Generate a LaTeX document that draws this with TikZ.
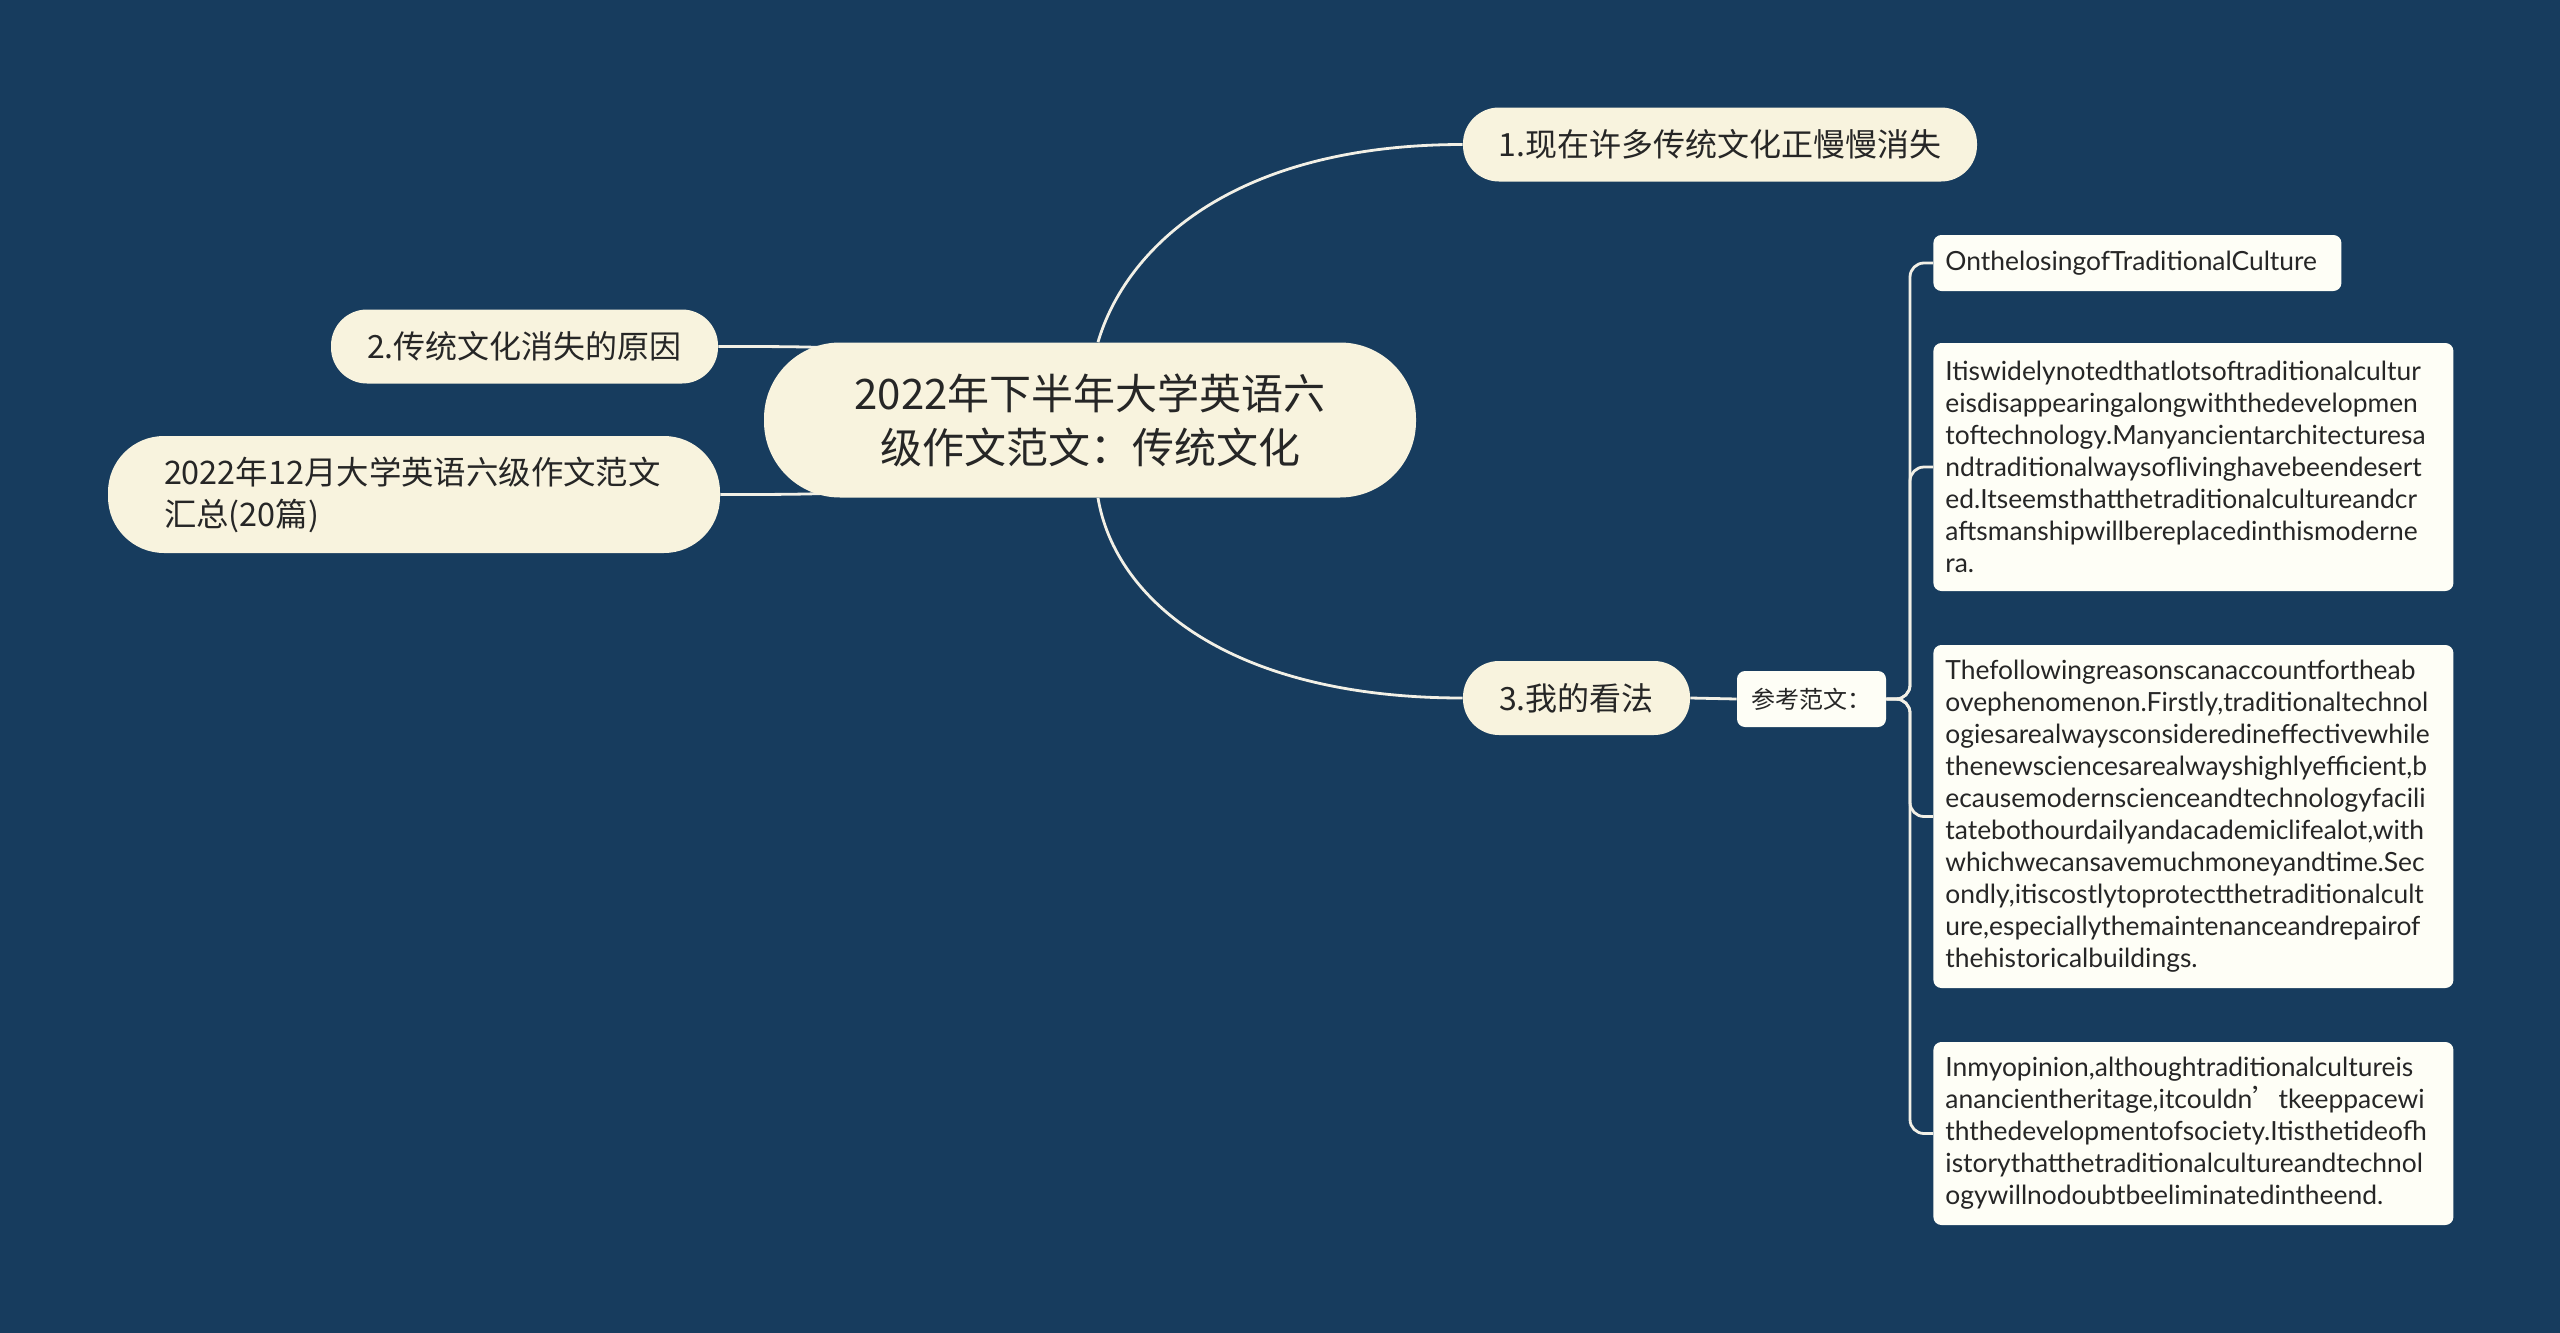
\documentclass[tikz,border=0pt]{standalone}
\usepackage{fontspec}
\setmainfont{Lato}
\newfontfamily\cjk{Noto Sans CJK SC}
\usetikzlibrary{backgrounds}
\definecolor{bgblue}{RGB}{23,60,94}
\definecolor{cream}{RGB}{248,243,222}
\definecolor{paper}{RGB}{254,254,246}
\definecolor{ink}{RGB}{38,38,38}
\definecolor{wire}{RGB}{242,240,230}

\begin{document}
\begin{tikzpicture}[x=0.5pt,y=-0.5pt,
 pill/.style={fill=cream,text=ink,font=\cjk\fontsize{16}{19}\selectfont,rounded corners=18pt,minimum height=37pt,inner sep=0pt},
 card/.style={fill=paper,text=ink,rounded corners=4pt,align=left,inner xsep=6pt,inner ysep=0pt,font=\fontsize{13.2}{16}\selectfont},
 link/.style={draw=wire,line width=1.4pt}]
 % centre topic
 \node[pill,font=\cjk\fontsize{21}{27}\selectfont,align=center,minimum width=326pt,minimum height=77.5pt,rounded corners=38pt] (root) at (1090,420) {2022年下半年大学英语六\\级作文范文：传统文化};
 % first level
 \node[pill,minimum width=257pt] (now) at (1720,144.5) {1.现在许多传统文化正慢慢消失};
 \node[pill,minimum width=193.5pt] (cause) at (524.5,346.5) {2.传统文化消失的原因};
 \node[pill,minimum width=306pt,minimum height=58.5pt,rounded corners=28pt,text width=250pt,align=left,font=\cjk\fontsize{16.2}{21}\selectfont] (summary) at (414,494.5) {2022年12月大学英语六级作文范文\\汇总(20篇)};
 \node[pill,minimum width=113.5pt] (view) at (1576.5,698) {3.我的看法};
 \node[card,font=\cjk\fontsize{12}{14}\selectfont,align=center,minimum width=74.5pt,minimum height=28pt] (model) at (1811.5,699) {参考范文：};
 % essay cards
 \node[card,anchor=west,text width=192pt,minimum height=28pt] (title) at (1933,263) {OnthelosingofTraditionalCulture};
 \node[card,anchor=west,text width=248pt,minimum height=124pt] (para1) at (1933,467) {Itiswidelynotedthatlotsoftraditionalcultur\\eisdisappearingalongwiththedevelopmen\\toftechnology.Manyancientarchitecturesa\\ndtraditionalwaysoflivinghavebeendesert\\ed.Itseemsthatthetraditionalcultureandcr\\aftsmanshipwillbereplacedinthismoderne\\ra.};
 \node[card,anchor=west,text width=248pt,minimum height=171.5pt] (para2) at (1933,816.5) {Thefollowingreasonscanaccountfortheab\\ovephenomenon.Firstly,traditionaltechnol\\ogiesarealwaysconsideredineffectivewhile\\thenewsciencesarealwayshighlyefficient,b\\ecausemodernscienceandtechnologyfacili\\tatebothourdailyandacademiclifealot,with\\whichwecansavemuchmoneyandtime.Sec\\ondly,itiscostlytoprotectthetraditionalcult\\ure,especiallythemaintenanceandrepairof\\thehistoricalbuildings.};
 \node[card,anchor=west,text width=248pt,minimum height=91.5pt] (para3) at (1933,1133.5) {Inmyopinion,althoughtraditionalcultureis\\anancientheritage,itcouldn{\cjk ’}tkeeppacewi\\ththedevelopmentofsociety.Itisthetideofh\\istorythatthetraditionalcultureandtechnol\\ogywillnodoubtbeeliminatedintheend.};
 \coordinate (fork) at (1910,699);
 \begin{pgfonlayer}{background}
 \fill[bgblue] (0,0) rectangle (2560,1333);
 \draw[link] ([xshift=4pt]root.north) .. controls (1125,250) and (1230,144.5) .. (now.west);
 \draw[link] ([xshift=4pt]root.south) .. controls (1115,600) and (1230,698) .. (view.west);
 \draw[link] (cause.east) .. controls (900,346.5) .. (root.center);
 \draw[link] (summary.east) .. controls (900,494.5) .. (root.center);
 \draw[link] (view.east) -- (model.west);
 \foreach \b in {title,para1,para2,para3}
  \draw[link,rounded corners=7pt] (model.east) -- (fork) |- (\b.west);
 \end{pgfonlayer}
\end{tikzpicture}
\end{document}
